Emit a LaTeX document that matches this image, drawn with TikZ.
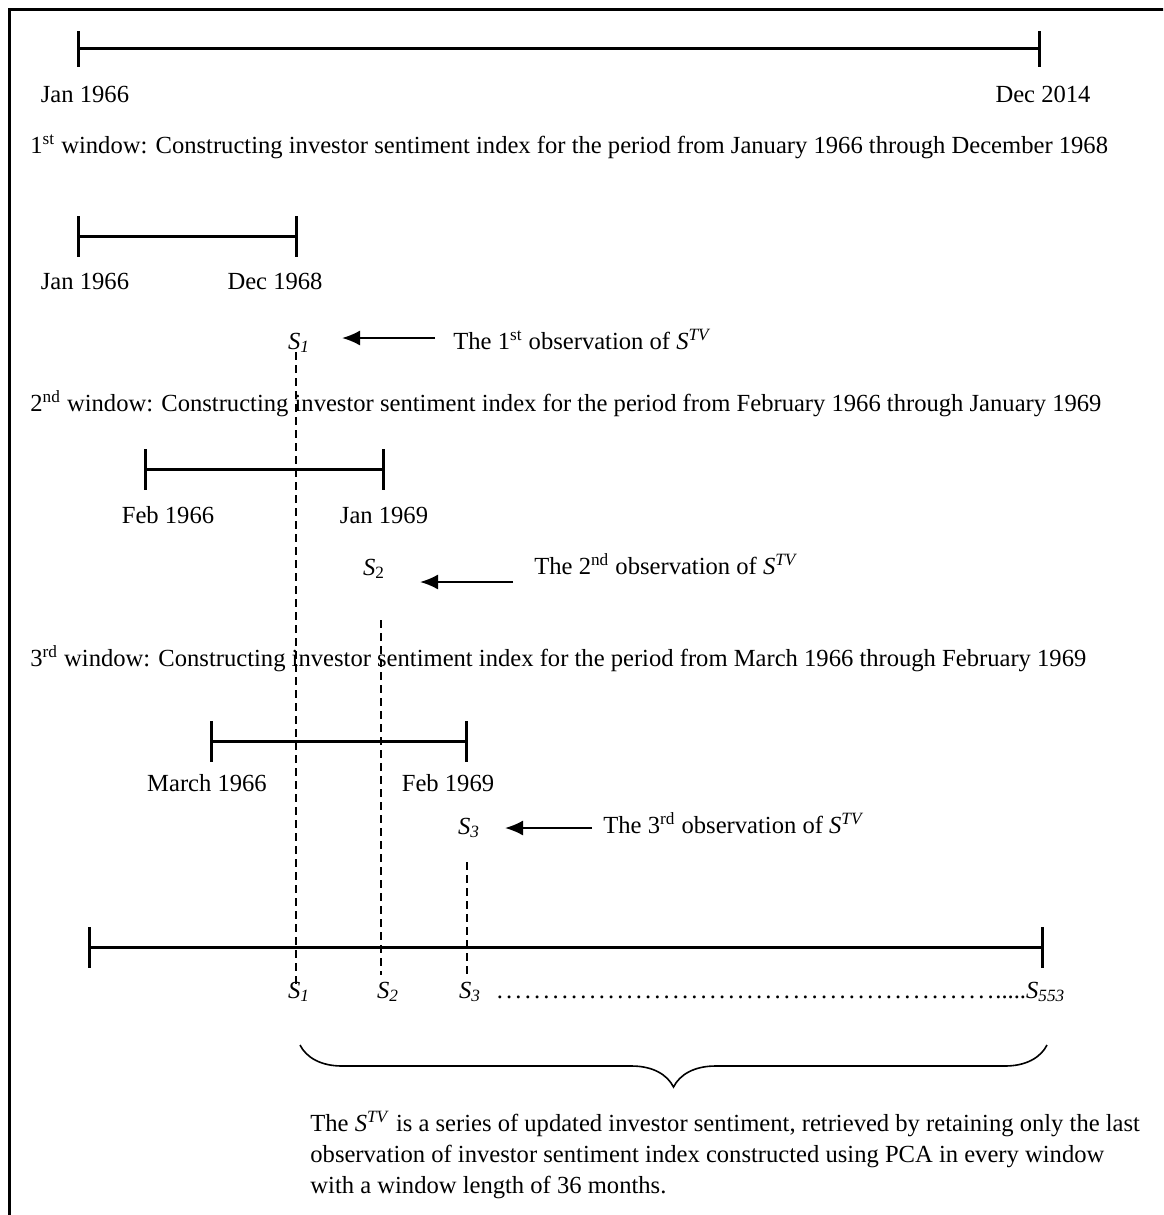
\documentclass[tikz,border=0pt]{standalone}
\usepackage{fontspec}
\setmainfont{Liberation Serif}
\usetikzlibrary{arrows.meta,decorations.pathreplacing}
\begin{document}
\begin{tikzpicture}[x=0.5pt,y=-0.5pt,
  every node/.style={inner sep=0pt,font=\fontsize{12.3}{14.5}\selectfont},
  tl/.style={line width=1.5pt},
  tk/.style={line width=1.5pt},
  vdash/.style={line width=1.3pt,dash pattern=on 4pt off 2.5pt},
  obsarrow/.style={line width=1pt,-{Latex[length=9pt,width=7.5pt]}},
  lbl/.style={anchor=base},
  txt/.style={anchor=base west}]
\useasboundingbox (0,0) rectangle (1163,1215);
\begin{scope}
\clip (0,0) rectangle (1163,1215);
\draw[line width=1.5pt] (9,9) rectangle (1250,1300);
\end{scope}
\newcommand{\sv}{\textit{S}\textsuperscript{\textit{TV}}}
% top timeline
\coordinate (a1) at (78,48); \coordinate (a2) at (1039,48);
\draw[tl] (a1) -- (a2);
\draw[tk] (78,31) -- (78,67); \draw[tk] (1039,31) -- (1039,67);
\node[lbl] (la1) at (85,102) {Jan 1966};
\node[lbl] (la2) at (1043,102) {Dec 2014};
\node[txt] (w1) at (30,153) {1\textsuperscript{st} window: Constructing investor sentiment index for the period from January 1966 through December 1968};
% window 1
\draw[tl] (78,236) -- (296,236);
\draw[tk] (78,216) -- (78,257); \draw[tk] (296,216) -- (296,257);
\node[lbl] (lb1) at (85,289) {Jan 1966};
\node[lbl] (lb2) at (275,289) {Dec 1968};
\node[lbl] (s1) at (299,349) {\textit{S}\textsubscript{\textit{1}}};
\node[txt] (o1) at (453,349) {The 1\textsuperscript{st} observation of \sv};
\coordinate (o1a) at (435,338); \coordinate (o1b) at (342,338);
\draw[obsarrow] (o1a) -- (o1b);
\node[txt] (w2) at (30,411) {2\textsuperscript{nd} window: Constructing investor sentiment index for the period from February 1966 through January 1969};
% window 2
\draw[tl] (145,469) -- (383,469);
\draw[tk] (145,449) -- (145,490); \draw[tk] (383,449) -- (383,490);
\node[lbl] (lc1) at (168,523) {Feb 1966};
\node[lbl] (lc2) at (384,523) {Jan 1969};
\node[lbl] (s2) at (374,575) {\textit{S}\textsubscript{2}};
\node[txt] (o2) at (534,574) {The 2\textsuperscript{nd} observation of \sv};
\coordinate (o2a) at (513,582); \coordinate (o2b) at (420,582);
\draw[obsarrow] (o2a) -- (o2b);
\node[txt] (w3) at (30,666) {3\textsuperscript{rd} window: Constructing investor sentiment index for the period from March 1966 through February 1969};
% window 3
\draw[tl] (211,741) -- (466,741);
\draw[tk] (211,721) -- (211,762); \draw[tk] (466,721) -- (466,762);
\node[lbl] (ld1) at (207,791) {March 1966};
\node[lbl] (ld2) at (448,791) {Feb 1969};
\node[lbl] (s3) at (469,834) {\textit{S}\textsubscript{\textit{3}}};
\node[txt] (o3) at (603,833) {The 3\textsuperscript{rd} observation of \sv};
\coordinate (o3a) at (592,828); \coordinate (o3b) at (505,828);
\draw[obsarrow] (o3a) -- (o3b);
% bottom timeline
\draw[tl] (89,947) -- (1042,947);
\draw[tk] (89,927) -- (89,968); \draw[tk] (1042,927) -- (1042,968);
\node[lbl] (b1) at (299,998) {\textit{S}\textsubscript{\textit{1}}};
\node[lbl] (b2) at (388,998) {\textit{S}\textsubscript{\textit{2}}};
\node[lbl] (b3) at (470,998) {\textit{S}\textsubscript{\textit{3}}};
\node[txt] (bn) at (495,998) {\hbox to 250pt{\xleaders\hbox to 4.6pt{\hss.\hss}\hfill}.....\textit{S}\textsubscript{\textit{553}}};
% dashed guides
\draw[vdash] (296,352) -- (296,985);
\draw[vdash] (381,620) -- (381,975);
\draw[vdash] (467,862) -- (467,975);
% brace
\draw[line width=0.8pt,decorate,decoration={brace,mirror,amplitude=21pt}] (300,1045) -- (1047,1045);
\node[anchor=north west,align=left,font=\fontsize{12.3}{15.5}\selectfont] (para) at (310,1111)
 {The \sv{} is a series of updated investor sentiment, retrieved by retaining only the last\\
  observation of investor sentiment index constructed using PCA in every window\\
  with a window length of 36 months.};
\end{tikzpicture}
\end{document}
